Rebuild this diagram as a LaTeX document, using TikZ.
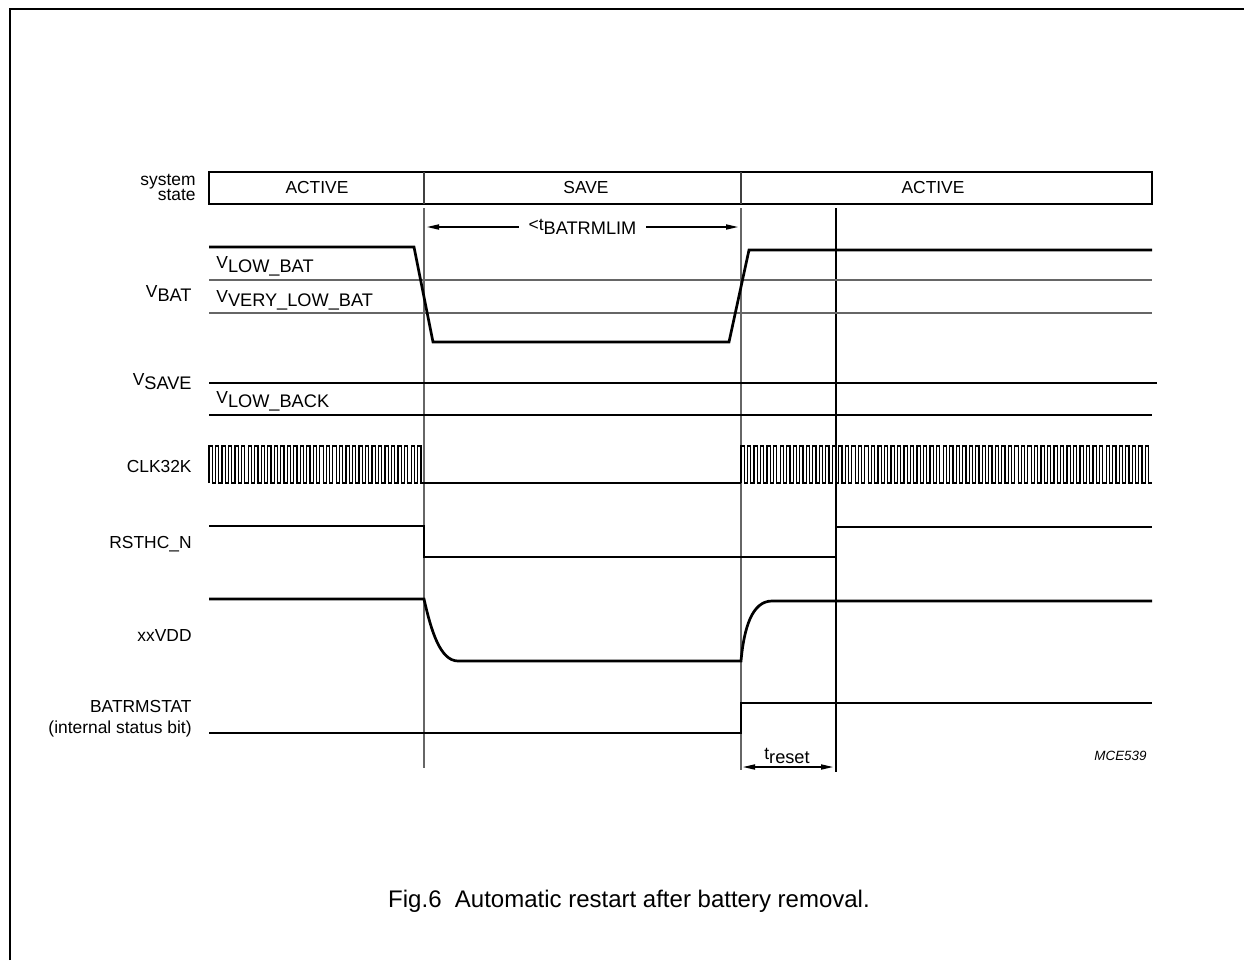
\documentclass[tikz,border=0pt]{standalone}
\usepackage{fontspec}
\setmainfont{Liberation Sans}
\usetikzlibrary{arrows,arrows.meta}
\usetikzlibrary{positioning}
\usetikzlibrary{calc}
\newcommand{\lsub}[2]{#1\raisebox{-2.3pt}{\fontsize{9.1}{9}\selectfont #2}}

\begin{document}
\begin{tikzpicture}[x=0.5pt,y=-0.5pt,>={Triangle[length=6pt,width=2.6pt]},
		line cap=butt]
		\tikzstyle{every node}=[font=\fontsize{8.7}{9}\selectfont,inner sep=0pt]
		\tikzstyle{wave}=[line width=1.35pt,line join=miter]
		\tikzstyle{clock}=[line width=0.6pt,line join=miter]
		\tikzstyle{thresh}=[line width=0.6pt,black!60]
		\tikzstyle{cursor}=[line width=0.6pt]
		\tikzstyle{lbl}=[anchor=base east]
		\tikzstyle{thr}=[anchor=base west]
		
		\useasboundingbox (0,0) rectangle (1244,960);
		\draw[line width=1.2pt] (10,960) -- (10,9) -- (1244,9);
		
		% system state bar
		\draw[line width=1.1pt] (209,172) rectangle (1152,204);
		\draw[line width=0.7pt,black!75] (424,172) -- (424,204) (741,172) -- (741,204);
		\node (act_1)  at (317,188) {ACTIVE};
		\node (save)   at (586,188) {SAVE};
		\node (act_2)  at (933,188) {ACTIVE};
		\node[lbl] (sys)   at (196,185) {system};
		\node[lbl] (state) at (196,200) {state};
		
		% time cursors
		\draw[cursor,black!60] (424,208) -- (424,768);
		\draw[cursor,black!60] (741,208) -- (741,770);
		\draw[cursor] (836,208) -- (836,772);
		
		% VBAT
		\draw[thresh] (209,280) -- (1152,280);
		\draw[thresh] (209,313) -- (1152,313);
		\draw[wave] (209,247) -- (414,247) -- (433,342) -- (729,342) -- (749,250) -- (1152,250);
		\node[lbl] (V_BAT) at (192,297) {\lsub{V}{BAT}};
		\node[thr] (V_LOW_BAT) at (216,268) {\lsub{V}{LOW\_BAT}};
		\node[thr] (V_VERY_LOW_BAT) at (216,302) {\lsub{V}{VERY\_LOW\_BAT}};
		
		% VSAVE
		\draw[wave] (209,383) -- (1157,383);
		\draw[line width=0.6pt] (209,415) -- (1152,415);
		\node[lbl] (V_SAVE) at (192,385) {\lsub{V}{SAVE}};
		\node[thr] (V_LOW_BACK) at (216,403) {\lsub{V}{LOW\_BACK}};
		
		% CLK32K
		\draw[clock] (209,483) foreach \i in {1,...,33} {
			-- ++(0,-37) -- ++(3.26,0) -- ++(0,37) -- ++(3.26,0)};
		\draw[wave] (424,483) -- (741,483);
		\draw[clock] (741,483) foreach \i in {1,...,63} {
			-- ++(0,-37) -- ++(3.26,0) -- ++(0,37) -- ++(3.26,0)};
		\node[lbl] (CLK32K) at (192,472) {CLK32K};
		
		% RSTHC_N
		\draw[wave] (209,526) -- (424,526) -- (424,557) -- (836,557) -- (836,527) -- (1152,527);
		\node[lbl] (RSTHC_N) at (192,548) {RSTHC\_N};
		
		% xxVDD
		\draw[wave] (209,599) -- (424,599) .. controls (431,630) and (440,661) .. (458,661)
			-- (741,661) .. controls (744,628) and (752,601) .. (772,601) -- (1152,601);
		\node[lbl] (xxVDD) at (192,641) {xxVDD};
		
		% BATRMSTAT
		\draw[wave] (209,733) -- (741,733) -- (741,703) -- (1152,703);
		\node[lbl] (BATRMSTAT) at (192,712) {BATRMSTAT};
		\node[lbl] (status) at (192,733) {(internal status bit)};
		
		% timing arrows
		\coordinate (tb_l) at (427,227);
		\coordinate (tb_r) at (738,227);
		\draw[<->,line width=0.6pt] (tb_l) -- node[fill=white,inner xsep=5pt,inner ysep=2pt] (t_lim)
			{\lsub{<t}{BATRMLIM}} (tb_r);
		\coordinate (tr_l) at (743,767);
		\coordinate (tr_r) at (833,767);
		\draw[<->,line width=0.6pt] (tr_l) -- (tr_r);
		\node[anchor=base] (t_reset) at (787,759) {\lsub{t}{reset}};
		
		\node[anchor=base east,font=\fontsize{6.7}{7}\selectfont\itshape] (code) at (1147,760) {MCE539};
		\node[anchor=base,font=\fontsize{12}{13}\selectfont] (caption) at (629,907)
			{Fig.6\ \ Automatic restart after battery removal.};
		\end{tikzpicture}
\end{document}
